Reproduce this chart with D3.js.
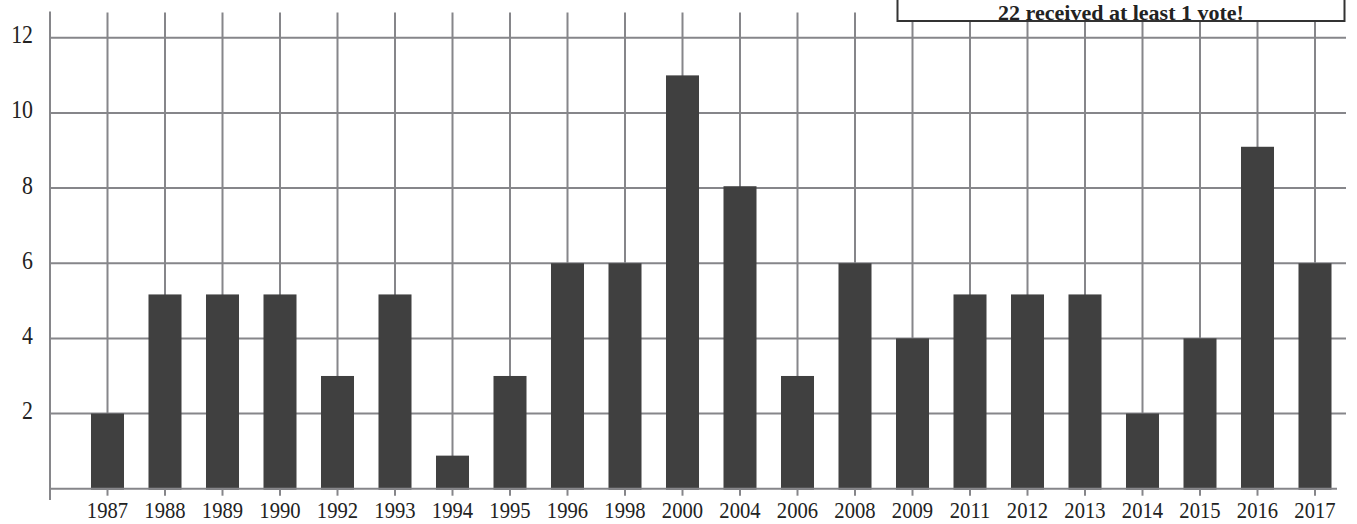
<!DOCTYPE html>
<html>
<head>
<meta charset="utf-8">
<script src="https://cdn.jsdelivr.net/npm/d3@7"></script>
<style>
  html, body { margin: 0; padding: 0; background: #fff; }
  svg { display: block; }
</style>
</head>
<body>
<svg id="chart" width="1357" height="524"></svg>
<script>
const years = ["1987","1988","1989","1990","1992","1993","1994","1995","1996","1998","2000","2004","2006","2008","2009","2011","2012","2013","2014","2015","2016","2017"];
const votes = [2, 5.17, 5.17, 5.17, 3, 5.17, 0.88, 3, 6, 6, 11, 8.05, 3, 6, 4, 5.17, 5.17, 5.17, 2, 4, 9.1, 6];
const yTicks = [2, 4, 6, 8, 10, 12];
const titleText = "22 received at least 1 vote!";

const svg = d3.select("#chart");
const gridColor = "#86868a";
const barColor = "#404040";
const font = "'Liberation Serif', 'Times New Roman', serif";

const x = d3.scaleBand().domain(years).range([78.75, 1343.75]).paddingInner(0.426).paddingOuter(0.213);
const y = d3.scaleLinear().domain([0, 12.7]).range([488.7, 11.5]);

// horizontal gridlines
svg.append("g").selectAll("line").data(yTicks).join("line")
  .attr("x1", 50).attr("x2", 1346)
  .attr("y1", d => y(d)).attr("y2", d => y(d))
  .attr("stroke", gridColor).attr("stroke-width", 2);

// vertical gridlines
svg.append("g").selectAll("line").data(years).join("line")
  .attr("x1", d => x(d) + x.bandwidth() / 2).attr("x2", d => x(d) + x.bandwidth() / 2)
  .attr("y1", y(12.7) + 1).attr("y2", y(0))
  .attr("stroke", gridColor).attr("stroke-width", 2);

// bars
svg.append("g").selectAll("rect").data(years).join("rect")
  .attr("x", d => x(d))
  .attr("width", x.bandwidth())
  .attr("y", (d, i) => y(votes[i]))
  .attr("height", (d, i) => y(0) - y(votes[i]) + 1)
  .attr("fill", barColor);

// x axis
const xAxis = svg.append("g").attr("transform", `translate(0,${y(0)})`)
  .call(d3.axisBottom(x).tickSize(7).tickPadding(4));
xAxis.select(".domain").remove();
xAxis.selectAll(".tick line").attr("stroke", gridColor).attr("stroke-width", 2);
xAxis.selectAll(".tick text")
  .attr("font-family", font).attr("font-size", 24).attr("fill", "#222")
  .attr("dy", null).attr("y", 29)
  .attr("transform", "scale(0.86,1)");
svg.append("line").attr("x1", 50).attr("x2", 1337).attr("y1", y(0)).attr("y2", y(0))
  .attr("stroke", gridColor).attr("stroke-width", 2);

// y axis
const yAxis = svg.append("g").attr("transform", "translate(50,0)")
  .call(d3.axisLeft(y).tickValues(yTicks).tickSize(0).tickPadding(17));
yAxis.select(".domain").remove();
yAxis.selectAll(".tick text")
  .attr("font-family", font).attr("font-size", 26).attr("fill", "#222")
  .attr("dy", null).attr("y", 5)
  .attr("x", -17 / 0.84).attr("transform", "scale(0.84,1)");
svg.append("line").attr("x1", 50).attr("x2", 50).attr("y1", 11.5).attr("y2", 500)
  .attr("stroke", gridColor).attr("stroke-width", 2);

// title box (top edge outside the view, as in the reference)
svg.append("rect").attr("x", 897.5).attr("y", -60).attr("width", 447).attr("height", 81)
  .attr("fill", "#fff").attr("stroke", "#333").attr("stroke-width", 2);
svg.append("text").attr("x", 1121).attr("y", 19.5)
  .attr("text-anchor", "middle").attr("font-family", font).attr("font-size", 22)
  .attr("font-weight", "bold").attr("fill", "#222")
  .text(titleText);
</script>
</body>
</html>
